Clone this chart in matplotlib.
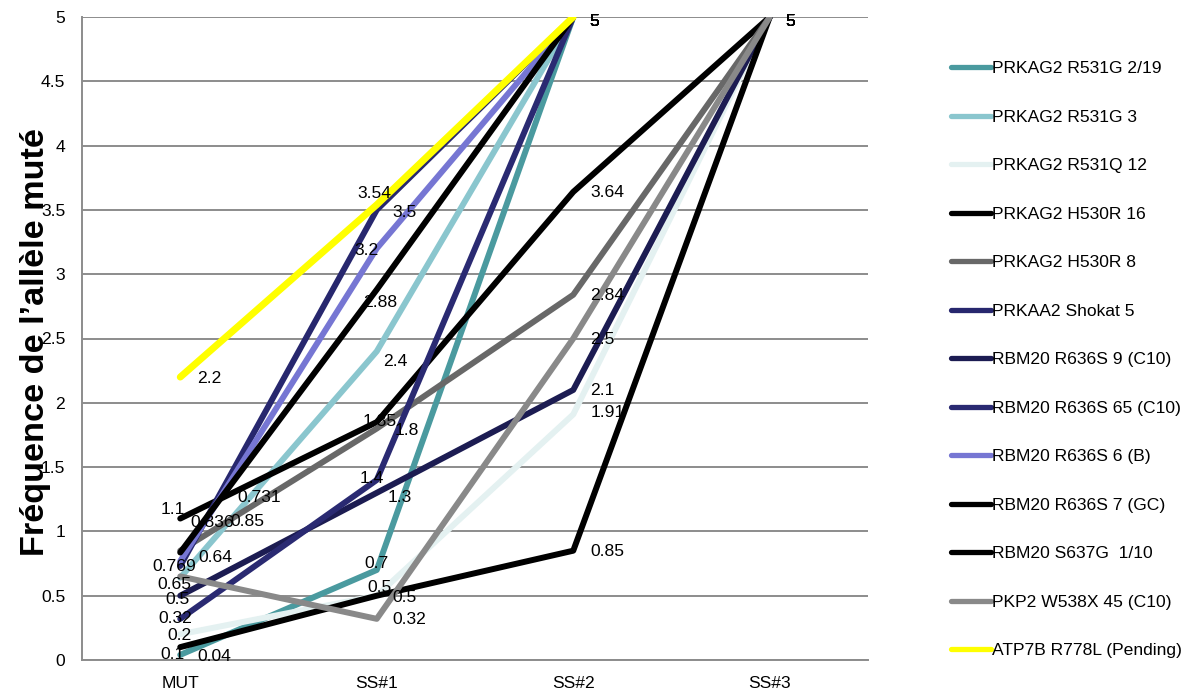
import numpy as np
import matplotlib
matplotlib.use('Agg')
import matplotlib.pyplot as plt

plt.rcParams['font.family'] = ['Liberation Sans', 'DejaVu Sans']

# categories on the x axis
stages = ['MUT', 'SS#1', 'SS#2', 'SS#3']

# series names (legend order)
names = ['PRKAG2 R531G 2/19', 'PRKAG2 R531G 3', 'PRKAG2 R531Q 12',
         'PRKAG2 H530R 16', 'PRKAG2 H530R 8', 'PRKAA2 Shokat 5',
         'RBM20 R636S 9 (C10)', 'RBM20 R636S 65 (C10)', 'RBM20 R636S 6 (B)',
         'RBM20 R636S 7 (GC)', 'RBM20 S637G  1/10', 'PKP2 W538X 45 (C10)',
         'ATP7B R778L (Pending)']

# values (nan = no point)
nan = np.nan
prkag2_r531g_219 = [0.04, 0.7, 5, nan]
prkag2_r531g_3 = [0.64, 2.4, 5, nan]
prkag2_r531q_12 = [0.2, 0.5, 1.91, 5]
prkag2_h530r_16 = [1.1, 1.85, 3.64, 5]
prkag2_h530r_8 = [0.85, 1.8, 2.84, 5]
prkaa2_shokat_5 = [0.731, 3.5, 5, nan]
rbm20_r636s_9 = [0.5, 1.3, 2.1, 5]
rbm20_r636s_65 = [0.32, 1.4, 5, nan]
rbm20_r636s_6 = [0.769, 3.2, 5, nan]
rbm20_r636s_7 = [0.836, 2.88, 5, nan]
rbm20_s637g_110 = [0.1, 0.5, 0.85, 5]
pkp2_w538x_45 = [0.65, 0.32, 2.5, 5]
atp7b_r778l = [2.2, 3.54, 5, nan]

series = [prkag2_r531g_219, prkag2_r531g_3, prkag2_r531q_12, prkag2_h530r_16,
          prkag2_h530r_8, prkaa2_shokat_5, rbm20_r636s_9, rbm20_r636s_65,
          rbm20_r636s_6, rbm20_r636s_7, rbm20_s637g_110, pkp2_w538x_45,
          atp7b_r778l]

colors = ['#4A9A9F', '#8AC6CE', '#E4F1F1', '#000000', '#686868', '#27276E',
          '#1C1C52', '#2A2A72', '#7676D3', '#000000', '#000000', '#898989',
          '#FFFF00']

# data label offsets in pixels (dx right, dy down); default is right of point
label_offsets = {
    (0, 0): (17, 1), (0, 1): (-12, -7),
    (1, 0): (18, -21), (1, 1): (6, 9),
    (2, 0): (-13, 0), (2, 1): (-9, -9), (2, 2): (17, -3),
    (3, 0): (-20, -10), (3, 1): (-14, -2),
    (4, 0): (50, -30), (4, 1): (18, 1),
    (5, 0): (57, -69), (5, 1): (16, 2),
    (6, 0): (-15, 3), (6, 1): (11, 4),
    (7, 0): (-22, -1), (7, 1): (-17, -2),
    (8, 0): (-28, 4), (8, 1): (-22, 1),
    (9, 0): (10, -31), (9, 1): (-14, 12),
    (10, 0): (-20, 6), (10, 1): (16, 1),
    (11, 0): (-23, 7), (11, 1): (16, 0),
    (12, 0): (17, 0), (12, 1): (-19, -12),
}

fig = plt.figure(figsize=(11.87, 6.89), dpi=100)
ax = fig.add_axes([82 / 1187, 29 / 689, 786 / 1187, 643 / 689])

x = np.arange(len(stages))
for i, vals in enumerate(series):
    lw = 5 if colors[i] == '#FFFF00' else 4.3
    ax.plot(x, vals, color=colors[i], lw=lw, label=names[i],
            solid_capstyle='round', solid_joinstyle='round', zorder=3 + i * 0.01)

# data labels
for i, vals in enumerate(series):
    for j, v in enumerate(vals):
        if np.isnan(v):
            continue
        if v == 5:
            dx, dy = 16, 3
        else:
            dx, dy = label_offsets.get((i, j), (17, 0))
        ax.annotate(f'{v:g}', (x[j], v), xytext=(dx, -dy - 1),
                    textcoords='offset pixels', ha='left', va='center',
                    fontsize=12.6, color='black', zorder=10, annotation_clip=False)

ax.set_xlim(-0.5, 3.5)
ax.set_ylim(0, 5)
ax.set_xticks(x)
ax.set_xticklabels(stages)
ax.set_yticks(np.arange(0, 5.01, 0.5))
ax.set_yticklabels([f'{t:g}' for t in np.arange(0, 5.01, 0.5)])
ax.tick_params(axis='both', length=0, labelsize=12.6)
ax.tick_params(axis='y', pad=12)
ax.tick_params(axis='x', pad=11.5)

ax.grid(axis='y', color='#8C8C8C', lw=1.4)
ax.set_axisbelow(True)
for s in ['top', 'right']:
    ax.spines[s].set_visible(False)
for s in ['left', 'bottom']:
    ax.spines[s].set_color('#8C8C8C')
    ax.spines[s].set_linewidth(1.4)

fig.text(36 / 1187, 1 - 342 / 689, 'Fréquence de l\u2019allèle muté', rotation=90,
         ha='center', va='center', fontsize=24.7, fontweight='bold')

leg = fig.legend(loc='upper left', bbox_to_anchor=(951 / 1187, 1 - 61 / 689),
                 frameon=False, fontsize=12.6, handlelength=2.3, handletextpad=0.05,
                 labelspacing=1.9, borderpad=0, borderaxespad=0)
for h in leg.get_lines():
    h.set_linewidth(3.8)
    h.set_solid_capstyle('round')

fig.savefig('out.png', dpi=100)
